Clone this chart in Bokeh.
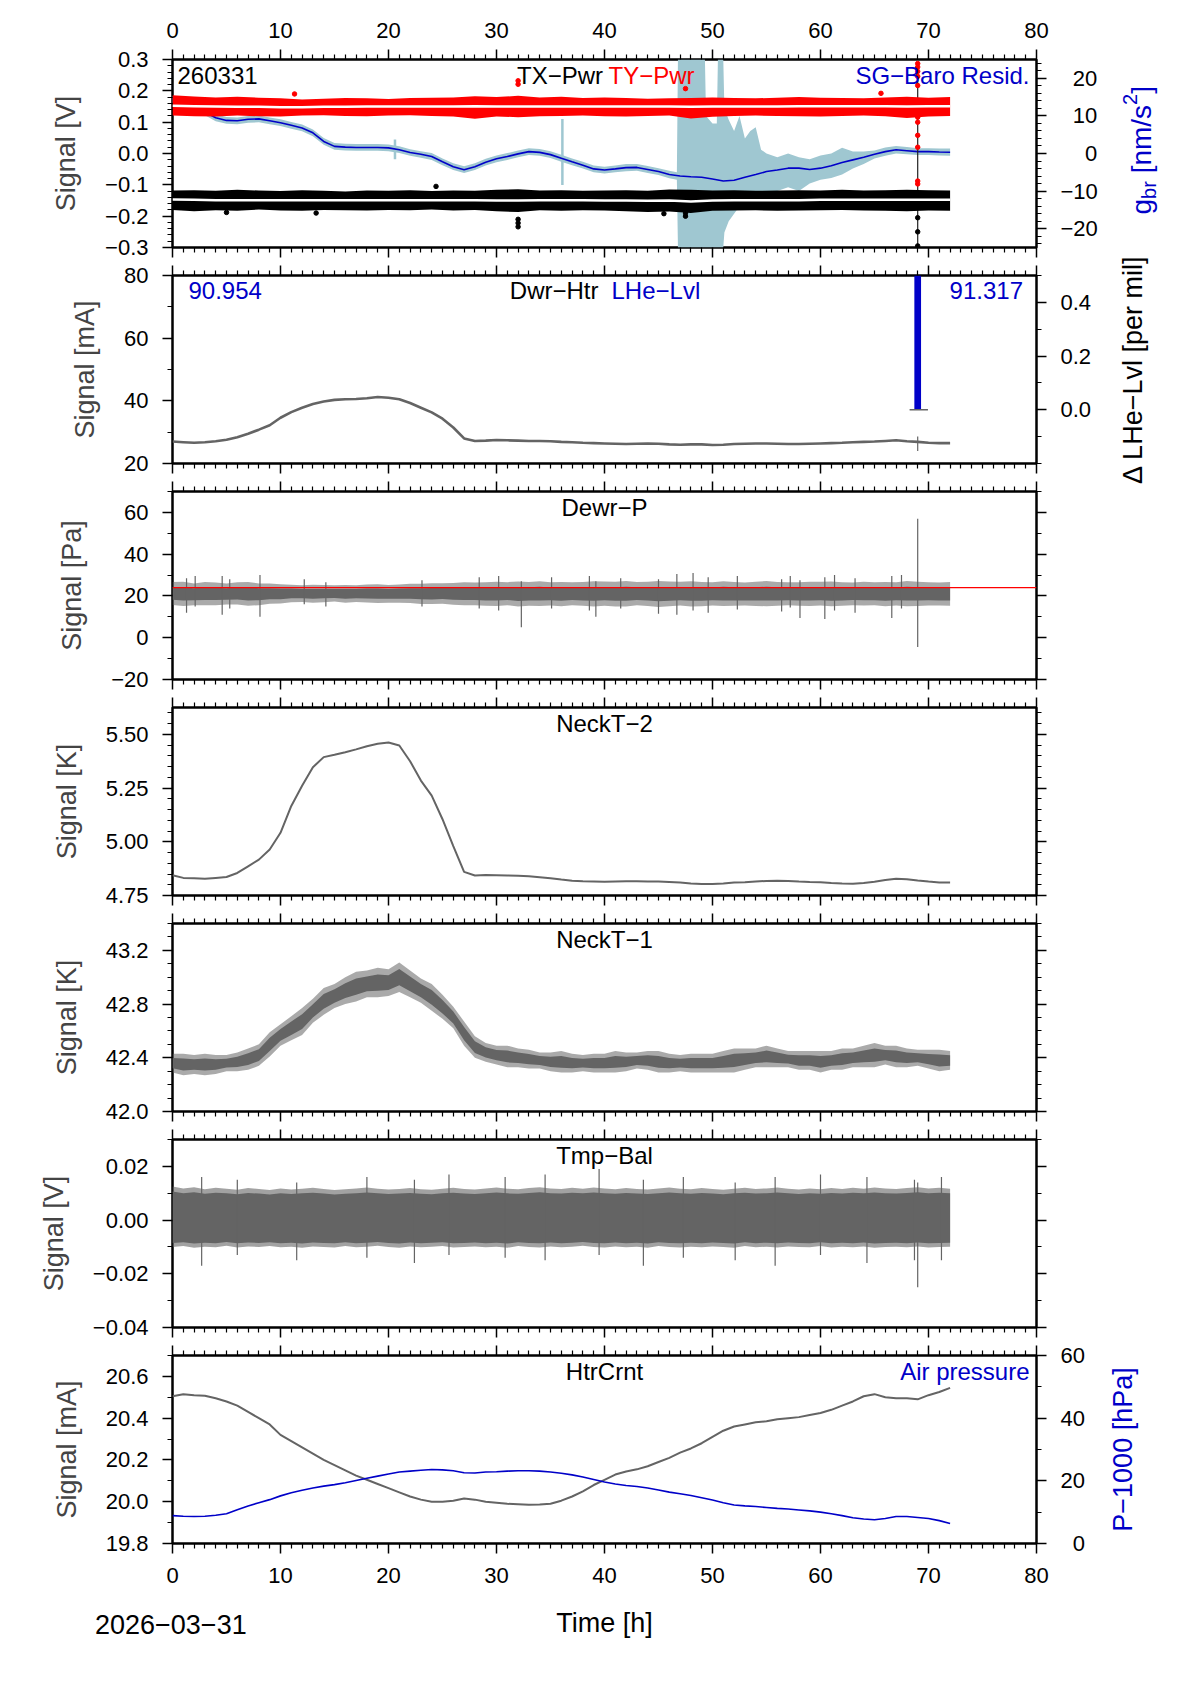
import math
from bokeh.plotting import figure
from bokeh.models import Range1d, LinearAxis, FixedTicker, Label, Column, Span, CustomLabelingPolicy
from bokeh.core.properties import value
from bokeh.embed import file_html
from bokeh.resources import INLINE

FONT = "Liberation Sans"
GRAY = "#646464"
BLUE = "#0000c8"
LBLUE = "#9fc7d1"
RED = "#ff0000"

# ------------------------------------------------------------------ data
hours = list(range(73))
t2h = list(range(0, 73, 2))

# panel 1: TX/TY power (V), SG-Baro residual (nm/s^2)
ty_mid = [0.152,0.151,0.150,0.149,0.149,0.148,0.148,0.149,0.149,0.150,
          0.150,0.150,0.150,0.150,0.151,0.150,0.150,0.150,0.150,0.150,
          0.150,0.150,0.150,0.150,0.149,0.150,0.150,0.150,0.150,0.151,
          0.151,0.151,0.151,0.151,0.150,0.151,0.151]
ty_hi = [0.186,0.182,0.179,0.181,0.178,0.176,0.172,0.175,0.177,0.176,
         0.174,0.177,0.178,0.179,0.183,0.180,0.184,0.179,0.181,0.177,
         0.179,0.177,0.175,0.176,0.177,0.179,0.177,0.176,0.178,0.180,
         0.178,0.177,0.176,0.179,0.181,0.178,0.180]
ty_lo = [0.121,0.119,0.118,0.121,0.119,0.118,0.121,0.122,0.120,0.119,
         0.121,0.122,0.120,0.118,0.111,0.118,0.116,0.119,0.120,0.121,
         0.119,0.118,0.120,0.121,0.112,0.117,0.120,0.121,0.120,0.119,
         0.118,0.120,0.121,0.119,0.113,0.118,0.120]
tx_mid = [-0.147,-0.148,-0.149,-0.149,-0.149,-0.149,-0.149,-0.149,-0.149,-0.149,
          -0.149,-0.149,-0.149,-0.149,-0.149,-0.150,-0.150,-0.149,-0.149,-0.149,
          -0.150,-0.150,-0.151,-0.150,-0.153,-0.150,-0.149,-0.149,-0.149,-0.149,
          -0.148,-0.148,-0.148,-0.148,-0.148,-0.148,-0.148]
tx_hi = [-0.118,-0.117,-0.119,-0.116,-0.118,-0.120,-0.117,-0.119,-0.121,-0.118,
         -0.119,-0.117,-0.120,-0.118,-0.119,-0.116,-0.114,-0.118,-0.117,-0.119,
         -0.118,-0.117,-0.119,-0.115,-0.116,-0.118,-0.117,-0.119,-0.118,-0.117,
         -0.118,-0.116,-0.118,-0.117,-0.116,-0.117,-0.118]
tx_lo = [-0.180,-0.184,-0.181,-0.183,-0.179,-0.182,-0.183,-0.180,-0.181,-0.182,
         -0.180,-0.181,-0.179,-0.182,-0.180,-0.184,-0.187,-0.181,-0.183,-0.181,
         -0.182,-0.184,-0.187,-0.185,-0.190,-0.183,-0.182,-0.181,-0.183,-0.182,
         -0.181,-0.180,-0.182,-0.183,-0.184,-0.182,-0.183]
ty_spk_x = [32.0, 32.0, 47.5, 11.3, 65.6, 69.0, 69.0, 69.0, 69.0, 69.0, 69.0, 69.0, 69.0, 69.0, 69.0, 69.0]
ty_spk_y = [0.232, 0.221, 0.207, 0.190, 0.192, 0.287, 0.276, 0.262, 0.246, 0.217, 0.116, 0.100, 0.058, 0.020, -0.097, -0.088]
tx_spk_x = [32.0, 32.0, 32.0, 47.5, 47.5, 5.0, 13.3, 45.5, 24.4, 69.0, 69.0, 69.0]
tx_spk_y = [-0.210, -0.222, -0.234, -0.190, -0.200, -0.188, -0.190, -0.192, -0.105, -0.205, -0.250, -0.295]
gap_time = 69.0

sg_resid = [14.4,13.5,12.3,11.0,9.5,8.8,8.7,9.1,9.2,8.7,
            8.2,7.5,6.8,5.5,3.2,1.9,1.7,1.6,1.6,1.6,
            1.5,1.0,0.25,-0.2,-0.8,-2.2,-3.5,-4.3,-3.5,-2.3,
            -1.4,-0.8,-0.1,0.5,0.3,-0.3,-1.25,-2.2,-3.1,-4.1,
            -4.4,-4.1,-3.75,-3.7,-4.25,-4.8,-5.6,-6.0,-6.2,-6.3,
            -6.8,-7.3,-7.1,-6.3,-5.6,-4.8,-4.4,-3.9,-3.9,-4.25,
            -3.9,-3.25,-2.4,-1.7,-1.0,-0.2,0.5,1.0,0.75,0.5,
            0.5,0.4,0.35]
sg_raw_t = [0,1,2,3,4,5,6,7,8,9,10,11,12,13,14,15,16,17,18,19,20,21,22,23,
            24,25,26,27,28,29,30,31,32,33,34,35,36,37,38,39,40,41,42,43,44,45,46,
            46.7,46.8,49.3,49.4,50.0,50.4,50.5,51.0,51.1,51.5,52.0,52.5,53.0,53.5,
            54.0,54.5,55,56,57,58,59,60,61,62,63,64,65,66,67,68,69,70,71,72]
sg_raw_hi = [15.3,14.3,13.1,11.8,10.4,9.7,9.6,10.0,10.1,9.6,
             9.1,8.4,7.7,6.4,4.1,2.8,2.6,2.5,2.5,2.5,
             2.4,1.9,1.1,0.6,0.1,-1.3,-2.6,-3.4,-2.6,-1.4,
             -0.5,0.1,0.8,1.4,1.2,0.6,-0.3,-1.3,-2.2,-3.2,
             -3.5,-3.2,-2.8,-2.8,-3.3,-3.9,-4.6,
             -5.0,25,25,10,8,8,25,25,12,9,6,10,4,6,7,1,0,-1,0,-1,-1.5,-0.5,0,
             1.5,0.5,0.5,0.8,1.6,2.0,1.7,1.4,1.4,1.3,1.3]
sg_raw_lo = [13.5,12.7,11.5,10.2,8.6,7.9,7.8,8.2,8.3,7.8,
             7.3,6.6,5.9,4.6,2.3,1.0,0.8,0.7,0.7,0.7,
             0.6,0.1,-0.6,-1.1,-1.7,-3.1,-4.4,-5.2,-4.4,-3.2,
             -2.3,-1.7,-1.0,-0.4,-0.6,-1.2,-2.2,-3.1,-4.0,-5.0,
             -5.3,-5.0,-4.7,-4.6,-5.2,-5.7,-6.6,
             -7.0,-25,-25,-25,-25,-25,-25,-25,-21,-18,-16,-14,-15,-13,-14,-12,-11,-10,-9,-10,-8,-7,-6.5,
             -5.6,-4,-2.8,-1.3,-0.6,0,-0.2,-0.4,-0.4,-0.5,-0.6]
sg_spk_x = [20.6, 36.1]
sg_spk_lo = [-1.5, -8.4]
sg_spk_hi = [3.7, 9.2]

# panel 2: dewar heater (mA), LHe level
dwr_htr = [27.0,26.8,26.6,26.8,27.1,27.6,28.4,29.5,30.8,32.2,
           34.6,36.4,37.8,39.0,39.8,40.3,40.5,40.6,40.8,41.2,
           41.0,40.5,39.3,37.8,36.3,34.3,31.5,28.0,27.2,27.3,
           27.5,27.4,27.3,27.2,27.2,27.1,26.9,26.8,26.6,26.5,
           26.4,26.3,26.2,26.3,26.4,26.3,26.1,26.0,26.1,26.1,
           25.9,26.0,26.2,26.3,26.4,26.4,26.3,26.2,26.2,26.3,
           26.4,26.5,26.6,26.8,26.9,27.0,27.2,27.4,27.1,26.9,
           26.6,26.5,26.5]
dwr_spk_x = [69.0]
dwr_spk_lo = [24.0]
dwr_spk_hi = [28.6]
lhe_start = 90.954
lhe_end = 91.317
lhe_time = 69.0

# panel 3: dewar pressure (Pa)
dewr_mid = [21.2,21.0,20.8,21.1,21.0,20.9,21.2,21.0,20.8,21.1,
            21.0,21.2,21.1,21.0,21.1,21.2,21.0,21.1,21.2,21.1,
            21.0,21.1,21.2,21.0,21.1,21.2,21.0,21.1,21.0,20.9,
            21.0,21.1,20.9,21.0,21.1,21.0,20.9,21.1,21.0,21.0,
            21.1,20.9,21.0,21.1,21.0,20.9,21.0,21.1,21.0,20.9,
            21.0,21.1,21.0,20.9,21.0,21.1,21.0,21.0,20.9,21.0,
            21.1,21.0,20.9,21.0,21.1,21.0,20.9,21.0,21.1,21.0,
            21.0,20.9,21.0]
dewr_hw = [5.5,5.8,5.2,5.6,5.4,5.0,5.3,5.7,5.2,4.8,
           4.6,4.2,4.0,4.3,4.1,3.9,4.2,4.0,4.3,4.5,
           4.2,4.4,4.6,4.8,5.0,4.9,5.2,5.5,5.4,5.6,
           5.8,5.5,6.0,5.7,5.9,5.6,5.8,5.5,5.7,6.0,
           5.8,5.9,6.1,5.6,5.8,6.2,5.9,5.7,6.0,5.8,
           5.6,5.9,5.7,5.5,5.8,6.0,5.7,5.5,5.6,5.8,
           5.7,5.9,5.6,5.4,5.7,5.5,5.8,5.6,6.0,5.8,
           5.6,5.5,5.7]
dewr_spk_x = [1.3, 2.1, 4.6, 5.3, 8.1, 12.2, 14.2, 23.1, 28.4, 30.2, 32.3, 35.1, 38.6, 39.2,
              41.5, 45.0, 46.7, 48.2, 49.6, 52.3, 56.4, 57.2, 58.1, 60.4, 61.3, 63.2, 66.6, 67.5, 69.0]
dewr_spk_lo = [12.0, 15.0, 11.0, 14.0, 10.0, 16.0, 15.0, 15.0, 14.0, 13.0, 5.0, 14.0, 13.0, 10.0,
               14.0, 11.5, 11.0, 13.0, 12.0, 13.5, 12.5, 14.5, 9.5, 9.0, 13.0, 12.0, 9.5, 14.0, -4.5]
dewr_spk_hi = [28.5, 29.5, 29.5, 28.0, 30.0, 28.0, 26.5, 27.5, 29.0, 29.5, 27.0, 29.0, 29.5, 27.0,
               28.5, 28.0, 30.5, 31.0, 29.0, 29.5, 28.0, 29.5, 27.5, 29.0, 30.0, 28.5, 29.5, 30.0, 57.0]
dewr_ref = 24.0

# panel 4: neck temperature 2 (K)
neck2 = [4.844,4.832,4.830,4.828,4.832,4.836,4.855,4.886,4.917,4.964,
         5.042,5.167,5.261,5.347,5.394,5.405,5.417,5.430,5.445,5.456,
         5.462,5.448,5.375,5.285,5.215,5.105,4.980,4.860,4.843,4.845,
         4.844,4.843,4.842,4.840,4.835,4.830,4.824,4.819,4.816,4.815,
         4.814,4.815,4.816,4.816,4.815,4.815,4.813,4.810,4.806,4.804,
         4.803,4.806,4.810,4.812,4.815,4.818,4.819,4.818,4.815,4.813,
         4.812,4.808,4.806,4.805,4.808,4.814,4.822,4.828,4.826,4.820,
         4.815,4.811,4.810]

# panel 5: neck temperature 1 (K)
neck1 = [42.36,42.35,42.35,42.35,42.35,42.36,42.37,42.39,42.42,42.50,
         42.57,42.62,42.67,42.75,42.82,42.86,42.90,42.93,42.95,42.96,
         42.96,43.00,42.95,42.90,42.85,42.78,42.70,42.58,42.48,42.44,
         42.42,42.41,42.40,42.39,42.38,42.37,42.37,42.36,42.36,42.36,
         42.36,42.37,42.37,42.38,42.38,42.37,42.36,42.36,42.36,42.36,
         42.36,42.37,42.38,42.39,42.40,42.41,42.40,42.39,42.38,42.38,
         42.37,42.38,42.39,42.40,42.41,42.42,42.42,42.41,42.40,42.40,
         42.39,42.38,42.38]
neck1_hw = [0.07,0.08,0.07,0.08,0.07,0.06,0.07,0.08,0.08,0.09,
            0.08,0.09,0.10,0.09,0.10,0.09,0.10,0.11,0.10,0.11,
            0.10,0.11,0.10,0.09,0.10,0.09,0.08,0.09,0.08,0.07,
            0.07,0.08,0.07,0.07,0.06,0.07,0.08,0.07,0.06,0.07,
            0.07,0.08,0.07,0.06,0.07,0.08,0.07,0.06,0.07,0.07,
            0.07,0.08,0.09,0.08,0.07,0.08,0.07,0.06,0.07,0.07,
            0.08,0.07,0.08,0.07,0.08,0.09,0.07,0.08,0.07,0.06,
            0.07,0.08,0.07]

# panel 6: temperature balance (V)
tb_hi = [0.0125,0.0118,0.0122,0.0115,0.0120,0.0117,0.0113,0.0119,0.0116,0.0112,
         0.0118,0.0114,0.0117,0.0120,0.0116,0.0112,0.0115,0.0118,0.0121,0.0117,
         0.0114,0.0116,0.0119,0.0115,0.0113,0.0117,0.0120,0.0116,0.0114,0.0118,
         0.0121,0.0117,0.0115,0.0119,0.0122,0.0118,0.0116,0.0120,0.0117,0.0121,
         0.0118,0.0115,0.0119,0.0116,0.0114,0.0118,0.0121,0.0117,0.0115,0.0119,
         0.0116,0.0113,0.0117,0.0120,0.0116,0.0118,0.0121,0.0117,0.0114,0.0118,
         0.0115,0.0119,0.0116,0.0120,0.0117,0.0121,0.0118,0.0116,0.0119,0.0122,
         0.0118,0.0120,0.0117]
tb_lo = [-0.0100,-0.0097,-0.0103,-0.0099,-0.0101,-0.0096,-0.0102,-0.0098,-0.0100,-0.0097,
         -0.0101,-0.0099,-0.0103,-0.0098,-0.0100,-0.0102,-0.0097,-0.0101,-0.0099,-0.0096,
         -0.0100,-0.0103,-0.0098,-0.0101,-0.0099,-0.0097,-0.0102,-0.0100,-0.0098,-0.0101,
         -0.0099,-0.0103,-0.0097,-0.0100,-0.0102,-0.0098,-0.0101,-0.0099,-0.0096,-0.0100,
         -0.0102,-0.0098,-0.0101,-0.0099,-0.0103,-0.0097,-0.0100,-0.0102,-0.0099,-0.0101,
         -0.0098,-0.0100,-0.0103,-0.0097,-0.0101,-0.0099,-0.0102,-0.0098,-0.0100,-0.0101,
         -0.0097,-0.0102,-0.0099,-0.0101,-0.0098,-0.0103,-0.0100,-0.0099,-0.0101,-0.0098,
         -0.0102,-0.0100,-0.0099]
tb_spk_x = [2.7, 6.0, 11.5, 18.0, 22.4, 25.6, 30.8, 34.5, 39.5, 43.6, 47.3, 52.1, 55.8, 60.0, 64.3, 68.7, 69.0, 71.2]
tb_spk_lo = [-0.017, -0.013, -0.015, -0.014, -0.016, -0.013, -0.014, -0.015, -0.013, -0.017, -0.014, -0.015, -0.017, -0.013, -0.016, -0.015, -0.025, -0.015]
tb_spk_hi = [0.016, 0.015, 0.014, 0.016, 0.015, 0.017, 0.016, 0.017, 0.019, 0.015, 0.016, 0.014, 0.016, 0.017, 0.016, 0.015, 0.014, 0.016]

# panel 7: heater current (mA), air pressure (hPa - 1000)
htr = [20.505,20.515,20.510,20.507,20.495,20.480,20.460,20.430,20.400,20.370,
       20.320,20.290,20.260,20.230,20.200,20.175,20.150,20.125,20.105,20.085,
       20.065,20.045,20.025,20.010,20.000,20.000,20.005,20.015,20.010,20.000,
       19.995,19.990,19.988,19.985,19.987,19.990,20.005,20.025,20.050,20.080,
       20.105,20.130,20.145,20.155,20.170,20.190,20.210,20.235,20.255,20.280,
       20.310,20.340,20.360,20.370,20.380,20.385,20.395,20.400,20.405,20.415,
       20.425,20.440,20.460,20.480,20.505,20.515,20.500,20.495,20.495,20.490,
       20.510,20.525,20.545]
air = [8.9,8.7,8.6,8.7,9.0,9.5,10.8,12.0,13.0,14.0,
       15.2,16.2,17.0,17.7,18.3,18.8,19.4,20.1,20.8,21.5,
       22.2,22.8,23.1,23.4,23.6,23.5,23.2,22.6,22.5,22.8,
       22.9,23.1,23.2,23.2,23.1,22.8,22.4,21.9,21.2,20.4,
       19.6,19.0,18.5,18.2,17.7,17.1,16.4,15.9,15.3,14.6,
       13.9,13.0,12.3,12.0,11.8,11.5,11.2,11.0,10.7,10.4,
       10.0,9.5,8.9,8.2,7.8,7.6,8.0,8.6,8.6,8.3,
       8.0,7.3,6.4]

date_text = "2026\u221203\u221231"

# ticks / labels
x_major = [0, 10, 20, 30, 40, 50, 60, 70, 80]
x_minor = [v for v in range(81) if v % 10]

FS = "\u2007"   # figure space, used to right-align right-axis labels

# ------------------------------------------------------------------ geometry helpers (page px)
FRAME_TOPS = [59, 275, 491, 707, 923, 1139, 1355]
FH = 188
FL = 172
FW = 864
RB = 146
PAGE_W = FL + FW + RB
PAGE_H = 1663
CORE = 0.55   # share of the noise band drawn fully opaque

NO_LABELS = CustomLabelingPolicy(code="for (const i of [...indices]) indices.unset(i); return indices")


def X(px):
    return 80.0 * (px - FL) / FW


def Y(rng, k, py):
    lo, hi = rng
    return hi - (py - FRAME_TOPS[k]) * (hi - lo) / FH


def make_panel(yr, tb, bb, **kw):
    p = figure(frame_width=FW, frame_height=FH, x_range=Range1d(0, 80), y_range=Range1d(*yr),
               min_border_left=FL, min_border_right=RB, min_border_top=tb, min_border_bottom=bb,
               x_axis_type=None, y_axis_type=None, output_backend="svg", toolbar_location=None,
               border_fill_color=None, background_fill_color="white",
               outline_line_color="black", outline_line_width=2.5, **kw)
    return p


def add_axis(p, side, ticks, minor, labels=None, show=True, rname=None, standoff=14,
             title=None, title_standoff=21):
    kw = {}
    if rname:
        kw["y_range_name"] = rname
    ax = LinearAxis(ticker=FixedTicker(ticks=ticks, minor_ticks=minor), **kw)
    ax.axis_line_color = None
    ax.major_tick_in = 0
    ax.major_tick_out = 10
    ax.major_tick_line_width = 1.5
    ax.major_tick_line_color = "black"
    ax.minor_tick_in = 0
    ax.minor_tick_out = 5
    ax.minor_tick_line_width = 1.2
    ax.minor_tick_line_color = "black"
    ax.major_label_text_font = FONT
    ax.major_label_text_color = "black"
    if show:
        ax.major_label_text_font_size = "22px"
        ax.major_label_standoff = standoff
        if labels is not None:
            ax.major_label_overrides = dict(zip(ticks, labels))
    else:
        ax.major_label_policy = NO_LABELS
        ax.major_label_text_font_size = "0px"
        ax.major_label_standoff = 0
    if title:
        ax.axis_label = title
        ax.axis_label_text_font = FONT
        ax.axis_label_text_font_size = "27px"
        ax.axis_label_text_font_style = "normal"
        ax.axis_label_standoff = title_standoff
    p.add_layout(ax, side)
    return ax


def add_x_axes(p, top_labels=False, bottom_labels=False):
    add_axis(p, "above", x_major, x_minor, show=top_labels, standoff=12)
    add_axis(p, "below", x_major, x_minor, show=bottom_labels, standoff=14)


def txt(p, x, y, s, color="black", align="left", size="24px", baseline="middle"):
    p.add_layout(Label(x=x, y=y, text=s, text_color=color, text_align=align,
                       text_baseline=baseline, text_font=FONT, text_font_size=size))


def minor_list(start, stop, step, majors, nd):
    out = []
    n = int(round((stop - start) / step))
    for i in range(n + 1):
        v = round(start + i * step, nd)
        if all(abs(v - m) > step / 10 for m in majors):
            out.append(v)
    return out


def noise_band(p, x, lo, hi, color=GRAY):
    """Noisy trace drawn as a translucent outer envelope and an opaque core."""
    mid = [(a + b) / 2 for a, b in zip(lo, hi)]
    c_lo = [m - (m - a) * CORE for m, a in zip(mid, lo)]
    c_hi = [m + (b - m) * CORE for m, b in zip(mid, hi)]
    p.varea(x=x, y1=lo, y2=hi, fill_color=color, fill_alpha=0.55)
    p.varea(x=x, y1=c_lo, y2=c_hi, fill_color=color)


# ------------------------------------------------------------------ panel 1
r1 = (-0.3, 0.3)
p1 = make_panel(r1, FRAME_TOPS[0], 14)
p1.extra_y_ranges = {"g": Range1d(-25, 25)}
y1_t = [-0.3, -0.2, -0.1, 0.0, 0.1, 0.2, 0.3]
y1_l = ["\u22120.3", "\u22120.2", "\u22120.1", "0.0", "0.1", "0.2", "0.3"]
add_axis(p1, "left", y1_t, minor_list(-0.3, 0.3, 0.02, y1_t, 2), y1_l, title="Signal [V]")
g_t = [-20, -10, 0, 10, 20]
g_l = ["\u221220", "\u221210", FS + FS + "0", FS + "10", FS + "20"]
add_axis(p1, "right", g_t, minor_list(-24, 24, 2, g_t, 0), g_l, rname="g")
add_x_axes(p1, top_labels=True)

p1.varea(x=sg_raw_t, y1=sg_raw_lo, y2=sg_raw_hi, y_range_name="g", fill_color=LBLUE)
p1.segment(x0=sg_spk_x, x1=sg_spk_x, y0=sg_spk_lo, y1=sg_spk_hi, y_range_name="g",
           line_color=LBLUE, line_width=2.5)
p1.line(hours, sg_resid, y_range_name="g", line_color=BLUE, line_width=1.6)
p1.segment(x0=[gap_time], x1=[gap_time], y0=[-0.3], y1=[0.29], line_color="#222222", line_width=1.2)
p1.varea(x=t2h, y1=ty_lo, y2=ty_hi, fill_color=RED)
p1.line(t2h, ty_mid, line_color="white", line_width=2.5)
p1.scatter(ty_spk_x, ty_spk_y, size=4.5, color=RED)
p1.varea(x=t2h, y1=tx_lo, y2=tx_hi, fill_color="black")
p1.line(t2h, tx_mid, line_color="white", line_width=2.5)
p1.scatter(tx_spk_x, tx_spk_y, size=4.5, color="black")

ty1 = Y(r1, 0, FRAME_TOPS[0] + 16)
txt(p1, X(177), ty1, "260331")
txt(p1, X(602.5), ty1, "TX\u2212Pwr", align="right")
txt(p1, X(608), ty1, "TY\u2212Pwr", color=RED)
txt(p1, X(1029), ty1, "SG\u2212Baro Resid.", color=BLUE, align="right")

# ------------------------------------------------------------------ panel 2
r2 = (20, 80)
p2 = make_panel(r2, 26, 26, margin=(-12, 0, -12, 0))
p2.extra_y_ranges = {"lhe": Range1d(-0.2, 0.5)}
y2_t = [20, 40, 60, 80]
add_axis(p2, "left", y2_t, [30, 50, 70], ["20", "40", "60", "80"], title="Signal [mA]")
l_t = [0.0, 0.2, 0.4]
add_axis(p2, "right", l_t, [-0.2, -0.1, 0.1, 0.3, 0.5], ["0.0", "0.2", "0.4"], rname="lhe")
add_x_axes(p2)
lhe_delta = (lhe_end - lhe_start) / lhe_start * 1000.0
p2.vbar(x=[lhe_time], width=0.62, bottom=[0.0], top=[lhe_delta], y_range_name="lhe",
        fill_color=BLUE, line_color=None)
p2.segment(x0=[lhe_time - 0.75], x1=[lhe_time + 0.95], y0=[0.0], y1=[0.0], y_range_name="lhe",
           line_color=GRAY, line_width=1.5)
p2.line(hours, dwr_htr, line_color=GRAY, line_width=2.6)
p2.segment(x0=dwr_spk_x, x1=dwr_spk_x, y0=dwr_spk_lo, y1=dwr_spk_hi, line_color=GRAY, line_width=1.2)
ty2 = Y(r2, 1, FRAME_TOPS[1] + 15)
txt(p2, X(188), ty2, "%.3f" % lhe_start, color=BLUE)
txt(p2, X(598), ty2, "Dwr\u2212Htr", align="right")
txt(p2, X(611), ty2, "LHe\u2212Lvl", color=BLUE)
txt(p2, X(1022.5), ty2, "%.3f" % lhe_end, color=BLUE, align="right")

# ------------------------------------------------------------------ panel 3
r3 = (-20, 70)
p3 = make_panel(r3, 14, 14)
y3_t = [-20, 0, 20, 40, 60]
y3_m = [-10, 10, 30, 50, 70]
add_axis(p3, "left", y3_t, y3_m, ["\u221220", "0", "20", "40", "60"], title="Signal [Pa]")
add_axis(p3, "right", y3_t, y3_m, show=False)
add_x_axes(p3)
dewr_lo = [m - h for m, h in zip(dewr_mid, dewr_hw)]
dewr_hi = [m + h for m, h in zip(dewr_mid, dewr_hw)]
noise_band(p3, hours, dewr_lo, dewr_hi)
p3.segment(x0=dewr_spk_x, x1=dewr_spk_x, y0=dewr_spk_lo, y1=dewr_spk_hi, line_color=GRAY, line_width=1.2)
p3.add_layout(Span(location=dewr_ref, dimension="width", line_color=RED, line_width=1.2))
txt(p3, 40, Y(r3, 2, FRAME_TOPS[2] + 15.5), "Dewr\u2212P", align="center")

# ------------------------------------------------------------------ panel 4
r4 = (4.75, 5.625)
p4 = make_panel(r4, 14, 14)
y4_t = [4.75, 5.0, 5.25, 5.5]
y4_m = minor_list(4.75, 5.6, 0.05, y4_t, 2)
add_axis(p4, "left", y4_t, y4_m, ["4.75", "5.00", "5.25", "5.50"], title="Signal [K]")
add_axis(p4, "right", y4_t, y4_m, show=False)
add_x_axes(p4)
p4.line(hours, neck2, line_color=GRAY, line_width=2.0)
txt(p4, 40, Y(r4, 3, FRAME_TOPS[3] + 15.5), "NeckT\u22122", align="center")

# ------------------------------------------------------------------ panel 5
r5 = (42.0, 43.4)
p5 = make_panel(r5, 14, 14)
y5_t = [42.0, 42.4, 42.8, 43.2]
y5_m = minor_list(42.0, 43.4, 0.1, y5_t, 1)
add_axis(p5, "left", y5_t, y5_m, ["42.0", "42.4", "42.8", "43.2"], title="Signal [K]")
add_axis(p5, "right", y5_t, y5_m, show=False)
add_x_axes(p5)
n1_lo = [m - h for m, h in zip(neck1, neck1_hw)]
n1_hi = [m + h for m, h in zip(neck1, neck1_hw)]
noise_band(p5, hours, n1_lo, n1_hi)
txt(p5, 40, Y(r5, 4, FRAME_TOPS[4] + 15.5), "NeckT\u22121", align="center")

# ------------------------------------------------------------------ panel 6
r6 = (-0.04, 0.03)
p6 = make_panel(r6, 14, 14)
y6_t = [-0.04, -0.02, 0.0, 0.02]
y6_m = [-0.03, -0.01, 0.01, 0.03]
add_axis(p6, "left", y6_t, y6_m, ["\u22120.04", "\u22120.02", "0.00", "0.02"], title="Signal [V]")
add_axis(p6, "right", y6_t, y6_m, show=False)
add_x_axes(p6)
p6.varea(x=hours, y1=tb_lo, y2=tb_hi, fill_color=GRAY, fill_alpha=0.6)
p6.varea(x=hours, y1=[v * 0.85 for v in tb_lo], y2=[v * 0.85 for v in tb_hi], fill_color=GRAY)
p6.segment(x0=tb_spk_x, x1=tb_spk_x, y0=tb_spk_lo, y1=tb_spk_hi, line_color=GRAY, line_width=1.2)
txt(p6, 40, Y(r6, 5, FRAME_TOPS[5] + 15.5), "Tmp\u2212Bal", align="center")

# ------------------------------------------------------------------ panel 7
r7 = (19.8, 20.7)
p7 = make_panel(r7, 14, PAGE_H - FRAME_TOPS[6] - FH)
p7.extra_y_ranges = {"p": Range1d(0, 60)}
y7_t = [19.8, 20.0, 20.2, 20.4, 20.6]
add_axis(p7, "left", y7_t, minor_list(19.8, 20.7, 0.1, y7_t, 1),
         ["19.8", "20.0", "20.2", "20.4", "20.6"], title="Signal [mA]")
p_t = [0, 20, 40, 60]
add_axis(p7, "right", p_t, [10, 30, 50], [FS + "0", "20", "40", "60"], rname="p")
add_x_axes(p7, bottom_labels=True)
p7.line(hours, htr, line_color=GRAY, line_width=2.0)
p7.line(hours, air, y_range_name="p", line_color=BLUE, line_width=1.6)
txt(p7, 40, Y(r7, 6, FRAME_TOPS[6] + 15.5), "HtrCrnt", align="center")
txt(p7, X(1029), Y(r7, 6, FRAME_TOPS[6] + 15.5), "Air pressure", color=BLUE, align="right")

# ------------------------------------------------------------------ overlay for texts outside the frames
ov = figure(width=PAGE_W, height=PAGE_H, x_range=Range1d(0, PAGE_W), y_range=Range1d(0, PAGE_H),
            min_border=0, min_border_left=0, min_border_right=0, min_border_top=0, min_border_bottom=0,
            x_axis_type=None, y_axis_type=None, output_backend="svg",
            toolbar_location=None, border_fill_color=None, background_fill_color=None,
            outline_line_color=None, margin=(-PAGE_H, 0, 0, 0))
try:
    ov.frame_align = False
except Exception:
    pass


def otxt(px, py, s, color="black", size="27px", angle=0.0, align="left", baseline="alphabetic"):
    ov.text(x=[px], y=[PAGE_H - py], text=[s], angle=angle, text_color=color,
            text_font=value(FONT), text_font_size=value(size), text_align=align,
            text_baseline=baseline)


# g_br [nm/s^2], rotated, read upward, built from pieces
pieces = [("g", 28, 0.556, 0), ("br", 20, 0.889, 7), (None, 28, 0.278, 0), ("[nm/s", 28, 2.445, 0),
          ("2", 20, 0.556, -12), ("]", 28, 0.278, 0)]
py = 214
for s, fs, w, dx in pieces:
    if s is not None:
        otxt(1141 + dx, py, s, color=BLUE, size="%dpx" % fs, angle=math.pi / 2)
    py -= w * fs

otxt(1132, FRAME_TOPS[1] + 94, "\u0394 LHe\u2212Lvl [per mil]", angle=math.pi / 2,
     align="center", baseline="middle")
otxt(1122, FRAME_TOPS[6] + 94, "P\u22121000 [hPa]", color=BLUE, angle=math.pi / 2,
     align="center", baseline="middle")
otxt(604, 1622, "Time [h]", align="center")
otxt(94.5, 1624, date_text)

panels = Column(children=[p1, p2, p3, p4, p5, p6, p7], spacing=0)
layout = Column(children=[panels, ov], spacing=0)
open("out.html", "w").write(file_html(layout, INLINE))
